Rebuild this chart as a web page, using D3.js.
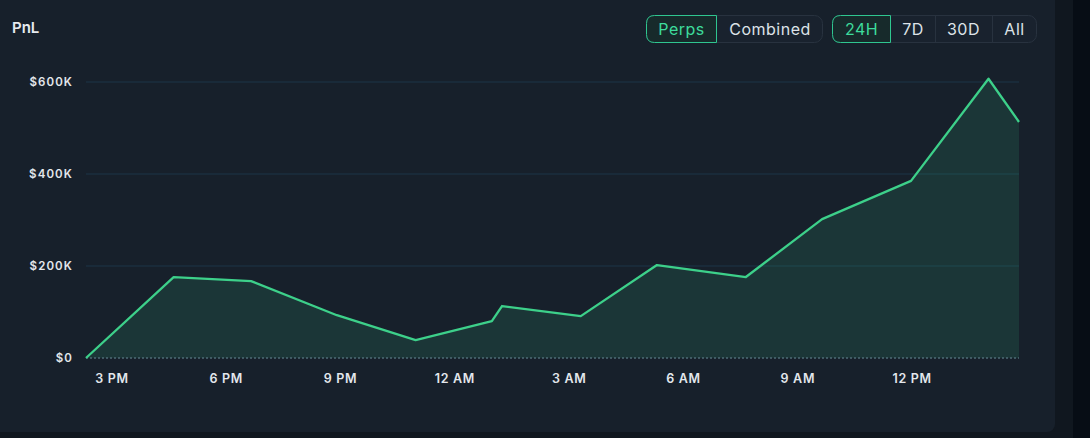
<!DOCTYPE html>
<html>
<head>
<meta charset="utf-8">
<script src="https://cdn.jsdelivr.net/npm/d3@7"></script>
<style>
  html, body { margin: 0; padding: 0; background: #070d15; }
  body { width: 1090px; height: 438px; overflow: hidden; font-family: Inter, "Noto Sans", sans-serif; }
  svg { display: block; }
</style>
</head>
<body>
<svg id="chart" width="1090" height="438"></svg>
<script>
// PnL over the last 24h (times in local clock, day 1 -> day 2)
const times = [
  "2024-01-01T14:20", "2024-01-01T16:38", "2024-01-01T18:40", "2024-01-01T20:55",
  "2024-01-01T22:59", "2024-01-02T00:59", "2024-01-02T01:15", "2024-01-02T03:19",
  "2024-01-02T05:19", "2024-01-02T07:39", "2024-01-02T09:39", "2024-01-02T11:59",
  "2024-01-02T14:01", "2024-01-02T14:49"
];
const pnl = [0, 176000, 167000, 93000, 39000, 80000, 113000, 91000, 202000, 176000, 302000, 385000, 607000, 513000];
const yTicks = [0, 200000, 400000, 600000];
const xTicks = ["2024-01-01T15:00", "2024-01-01T18:00", "2024-01-01T21:00", "2024-01-02T00:00",
  "2024-01-02T03:00", "2024-01-02T06:00", "2024-01-02T09:00", "2024-01-02T12:00"];
const marketTabs = ["Perps", "Combined"];
const rangeTabs = ["24H", "7D", "30D", "All"];

const parse = d3.timeParse("%Y-%m-%dT%H:%M");
const data = times.map((t, i) => ({ t: parse(t), v: pnl[i] }));

const svg = d3.select("#chart");

// outer background layers
svg.append("rect").attr("x", 0).attr("y", 0).attr("width", 1073).attr("height", 438).attr("fill", "#10171f");
svg.append("rect").attr("x", -10).attr("y", -10).attr("width", 1065).attr("height", 442)
  .attr("rx", 8).attr("fill", "#17202b");

// title
svg.append("text").attr("x", 12).attr("y", 33).text("PnL")
  .attr("fill", "#e6eaef").attr("font-size", 15).attr("font-weight", 600);

// scales
const x = d3.scaleTime()
  .domain([parse("2024-01-01T14:20"), parse("2024-01-02T14:49")])
  .range([86, 1019]);
const y = d3.scaleLinear().domain([0, 600000]).range([358, 82]);

// grid
svg.append("g").selectAll("line").data(yTicks.filter(d => d > 0)).join("line")
  .attr("x1", 86).attr("x2", 1019)
  .attr("y1", d => y(d)).attr("y2", d => y(d))
  .attr("stroke", "#1d3448").attr("stroke-width", 1);

// area + line
const area = d3.area().x(d => x(d.t)).y0(y(0)).y1(d => y(d.v));
const line = d3.line().x(d => x(d.t)).y(d => y(d.v));

svg.append("path").datum(data).attr("d", area)
  .attr("fill", "rgba(52, 211, 140, 0.13)");

// zero line (dotted)
svg.append("line").attr("x1", 86).attr("x2", 1019).attr("y1", y(0)).attr("y2", y(0))
  .attr("stroke", "#4d6b75").attr("stroke-width", 1.5).attr("stroke-dasharray", "2,2");

svg.append("path").datum(data).attr("d", line)
  .attr("fill", "none").attr("stroke", "#3dd08a").attr("stroke-width", 2.3)
  .attr("stroke-linejoin", "round");

// y axis labels
const fmtY = d => d === 0 ? "$0" : "$" + (d / 1000) + "K";
const yAxis = svg.append("g").attr("transform", "translate(73,0)")
  .call(d3.axisLeft(y).tickValues(yTicks).tickFormat(fmtY).tickSize(0).tickPadding(0));
yAxis.select(".domain").remove();
yAxis.selectAll("text").attr("fill", "#e3e7ec").attr("font-size", 11.5).attr("font-weight", 600)
  .attr("letter-spacing", "1.1px").attr("font-family", "Inter, sans-serif");

// x axis labels
const fmtX = d3.timeFormat("%-I %p");
const xAxis = svg.append("g").attr("transform", "translate(0,374)")
  .call(d3.axisBottom(x).tickValues(xTicks.map(parse)).tickFormat(fmtX).tickSize(0).tickPadding(0));
xAxis.select(".domain").remove();
xAxis.selectAll("text").attr("fill", "#e3e7ec").attr("font-size", 12.5).attr("font-weight", 600)
  .attr("letter-spacing", "0.7px").attr("font-family", "Inter, sans-serif");

// segmented buttons
function tabGroup(labels, edges, active) {
  const g = svg.append("g");
  const x0 = edges[0], x1 = edges[edges.length - 1];
  g.append("rect").attr("x", x0 + 0.5).attr("y", 15.5).attr("width", x1 - x0 - 1).attr("height", 27)
    .attr("rx", 8).attr("fill", "#19222e").attr("stroke", "#28323f");
  labels.forEach((lab, i) => {
    const a = edges[i], b = edges[i + 1];
    if (i > 0 && i !== active && i - 1 !== active) {
      g.append("line").attr("x1", a + 0.5).attr("x2", a + 0.5).attr("y1", 16).attr("y2", 42)
        .attr("stroke", "#28323f");
    }
    if (i === active) {
      g.append("path")
        .attr("d", `M${b - 0.5},15.5 H${a + 8.5} Q${a + 0.5},15.5 ${a + 0.5},23.5 V34.5 Q${a + 0.5},42.5 ${a + 8.5},42.5 H${b - 0.5} Z`)
        .attr("fill", "#172a2b").attr("stroke", "#2fc690").attr("stroke-width", 1);
    }
    g.append("text").attr("x", (a + b) / 2).attr("y", 34.5).attr("text-anchor", "middle")
      .attr("font-size", 16).attr("font-weight", 400).attr("letter-spacing", "0.5px")
      .attr("fill", i === active ? "#3ddc9c" : "#dde2e8")
      .text(lab);
  });
}
tabGroup(marketTabs, [646, 717, 823], 0);
tabGroup(rangeTabs, [832, 891, 935, 992, 1037], 0);
</script>
</body>
</html>
